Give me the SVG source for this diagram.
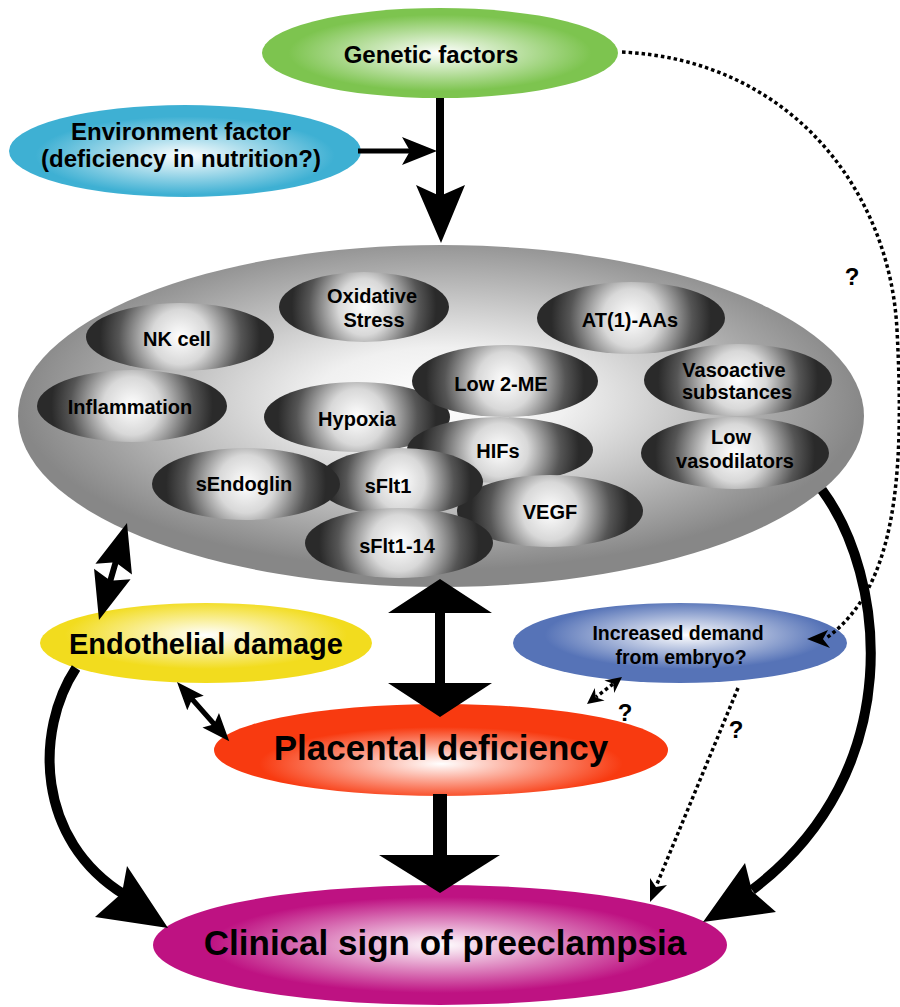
<svg xmlns="http://www.w3.org/2000/svg" width="900" height="1007" viewBox="0 0 900 1007">
<defs>
<radialGradient id="gGreen" cx="0.5" cy="0.5" r="0.5"><stop offset="0" stop-color="#ffffff"/><stop offset="0.85" stop-color="#7dc44f"/></radialGradient>
<radialGradient id="gBlue" cx="0.5" cy="0.55" r="0.5"><stop offset="0" stop-color="#ffffff"/><stop offset="0.85" stop-color="#3eb0d3"/></radialGradient>
<radialGradient id="gYellow" cx="0.5" cy="0.4" r="0.5"><stop offset="0" stop-color="#ffffff"/><stop offset="0.85" stop-color="#f2dc1e"/></radialGradient>
<radialGradient id="gRed" cx="0.5" cy="0.65" r="0.5"><stop offset="0" stop-color="#ffffff"/><stop offset="0.8" stop-color="#f83a10"/></radialGradient>
<radialGradient id="gMag" cx="0.5" cy="0.5" r="0.5"><stop offset="0" stop-color="#ffffff"/><stop offset="0.8" stop-color="#be1282"/></radialGradient>
<radialGradient id="gPurp" cx="0.52" cy="0.4" r="0.5"><stop offset="0" stop-color="#ffffff"/><stop offset="0.85" stop-color="#5673b7"/></radialGradient>
<radialGradient id="gGray" cx="0.5" cy="0.45" r="0.5"><stop offset="0" stop-color="#ffffff"/><stop offset="0.3" stop-color="#f0f0f0"/><stop offset="1" stop-color="#878787"/></radialGradient>
<radialGradient id="gIn" cx="0.5" cy="0.5" r="0.5" gradientTransform="translate(0.5 0.5) scale(1 2.69) translate(-0.5 -0.5)"><stop offset="0" stop-color="#ffffff"/><stop offset="0.3" stop-color="#d8d8d8"/><stop offset="0.65" stop-color="#555555"/><stop offset="0.85" stop-color="#2a2a2a"/><stop offset="1" stop-color="#2a2a2a"/></radialGradient>
</defs>
<style>
text{font-family:"Liberation Sans",Arial,Helvetica,sans-serif;font-weight:bold;fill:#000;text-anchor:middle}
.in{fill:url(#gIn)}
.t20{font-size:20px}
.q{font-size:24px}
.thick{fill:none;stroke:#000;stroke-width:10}
.dot{fill:none;stroke:#000;stroke-width:3.5;stroke-dasharray:3.5 3}
</style>

<g id="genetic"><ellipse cx="440" cy="53" rx="178" ry="45" fill="url(#gGreen)"/><text x="431" y="63" font-size="24">Genetic factors</text></g>
<g id="environment"><ellipse cx="185" cy="151" rx="176" ry="46" fill="url(#gBlue)"/><text x="181" y="140" font-size="24">Environment factor</text><text x="181" y="167" font-size="24">(deficiency in nutrition?)</text></g>

<g id="factors">
<ellipse cx="441" cy="416" rx="423" ry="171" fill="url(#gGray)"/>
<g id="nk"><ellipse class="in" cx="180" cy="337" rx="94" ry="34"/><text class="t20" x="177" y="346">NK cell</text></g>
<g id="oxid"><ellipse class="in" cx="364" cy="307" rx="85" ry="35"/><text class="t20" x="372" y="303">Oxidative</text><text class="t20" x="374" y="327">Stress</text></g>
<g id="infl"><ellipse class="in" cx="132" cy="406" rx="95" ry="36"/><text class="t20" x="130" y="414">Inflammation</text></g>
<g id="at1"><ellipse class="in" cx="631" cy="318" rx="94" ry="36"/><text class="t20" x="630" y="327">AT(1)-AAs</text></g>
<g id="vaso"><ellipse class="in" cx="738" cy="380" rx="94" ry="36"/><text class="t20" x="734" y="377">Vasoactive</text><text class="t20" x="737" y="399">substances</text></g>
<g id="lowvaso"><ellipse class="in" cx="735" cy="453" rx="94" ry="36"/><text class="t20" x="731" y="444">Low</text><text class="t20" x="735" y="468">vasodilators</text></g>
<g id="hypoxia"><ellipse class="in" cx="357" cy="417" rx="93" ry="35"/><text class="t20" x="357" y="426">Hypoxia</text></g>
<g id="low2me"><ellipse class="in" cx="505" cy="381" rx="93" ry="36"/><text class="t20" x="501" y="391">Low 2-ME</text></g>
<g id="hifs"><ellipse class="in" cx="500" cy="450" rx="93" ry="33"/><text class="t20" x="498" y="458">HIFs</text></g>
<g id="vegf"><ellipse class="in" cx="550" cy="511" rx="93" ry="36"/><text class="t20" x="550" y="519">VEGF</text></g>
<g id="sflt1"><ellipse class="in" cx="400" cy="482" rx="83" ry="34"/><text class="t20" x="388" y="493">sFlt1</text></g>
<g id="sendoglin"><ellipse class="in" cx="246" cy="484" rx="94" ry="36"/><text class="t20" x="244" y="491">sEndoglin</text></g>
<g id="sflt114"><ellipse class="in" cx="399" cy="543" rx="94" ry="35"/><text class="t20" x="397" y="553">sFlt1-14</text></g>
</g>

<g id="endothelial"><ellipse cx="206" cy="643" rx="166" ry="40" fill="url(#gYellow)"/><text x="206" y="654" font-size="29">Endothelial damage</text></g>
<g id="demand"><ellipse cx="680" cy="643" rx="167" ry="40" fill="url(#gPurp)"/><text x="678" y="640" font-size="19.5">Increased demand</text><text x="681" y="664" font-size="19.5">from embryo?</text></g>
<g id="placental"><ellipse cx="441" cy="750" rx="227" ry="46" fill="url(#gRed)"/><text x="441" y="760" font-size="35">Placental deficiency</text></g>
<g id="clinical"><ellipse cx="440" cy="945" rx="287" ry="60" fill="url(#gMag)"/><text x="445" y="955" font-size="35">Clinical sign of preeclampsia</text></g>

<g id="connectors">
<line x1="358" y1="151" x2="412" y2="151" stroke="#000" stroke-width="5"/>
<polygon points="437,151 402,137 410,151 402,165"/>
<line x1="440" y1="98" x2="440" y2="198" stroke="#000" stroke-width="8"/>
<polygon points="441,243 416,185 440,196 465,185"/>
<polygon points="440,579 388,613 435,613 435,683 388,683 440,717 492,683 445,683 445,613 492,613"/>
<rect x="433" y="794" width="14" height="62"/>
<polygon points="379,855 500,855 440,893"/>
<path class="thick" d="M76,668 C35,730 35,840 125,895"/>
<polygon points="168,928 127,866 122,893 95,917"/>
<path class="thick" d="M822,490 C885,575 910,770 752,890"/>
<polygon points="703,922 745,863 752,891 776,912"/>
<path class="dot" d="M622,52 C790,60 890,190 897,330 C905,480 895,590 825,639"/>
<polygon points="807,639 828,630 823,639 830,648"/>
<path class="dot" d="M738,688 L657,884"/>
<polygon points="650,902 650,878 656,887 667,885"/>
<g transform="translate(127,523) rotate(106.1)"><polygon points="0,0 48,-19 42,-3 59,-3 53,-19 101,0 53,19 59,3 42,3 48,19"/></g>
<g transform="translate(177,682) rotate(48.6)"><polygon points="0,0 28,-11 24,-2.5 55,-2.5 51,-11 79,0 51,11 55,2.5 24,2.5 28,11"/></g>
<polygon points="622,677 604.4,680.5 613.3,683.7 614.2,693.1"/>
<polygon points="587,704 604.6,700.5 595.7,697.3 594.8,687.9"/>
<path class="dot" d="M613,684 L596,697"/>
</g>
<text class="q" x="852" y="285">?</text>
<text class="q" x="736" y="738">?</text>
<text class="q" x="625" y="721">?</text>
</svg>
